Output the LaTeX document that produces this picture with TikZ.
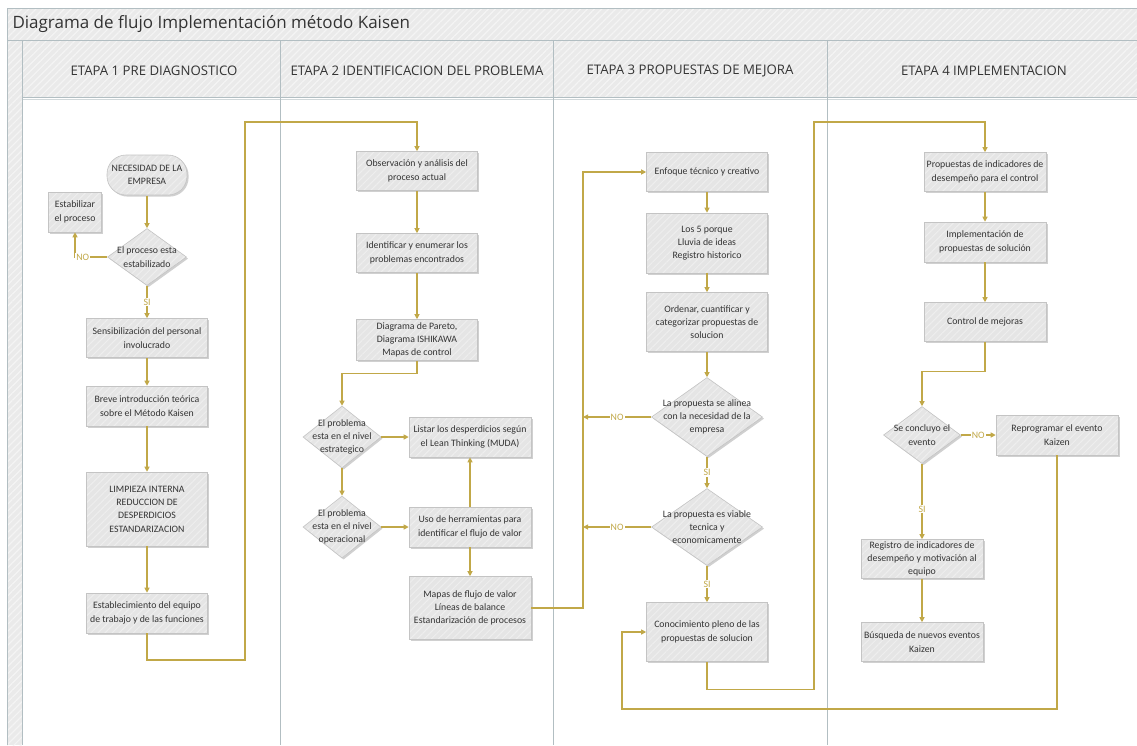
\documentclass[tikz,border=0pt]{standalone}
\usepackage{fontspec}
\setmainfont{Carlito}
\newfontfamily\headfont{Open Sans}
\usetikzlibrary{arrows.meta,shapes.geometric,patterns.meta,calc}

\definecolor{gold}{RGB}{193,168,72}
\definecolor{boxfill}{RGB}{229,229,229}
\definecolor{boxhatch}{RGB}{238,238,238}
\definecolor{boxline}{RGB}{196,196,196}
\definecolor{shade}{RGB}{170,170,170}
\definecolor{barfill}{RGB}{234,234,234}
\definecolor{barhatch}{RGB}{244,244,244}
\definecolor{frameline}{RGB}{178,190,194}
\definecolor{inkgray}{RGB}{52,52,52}

\begin{document}
\begin{tikzpicture}[x=1pt,y=-1pt,
  every node/.style={text=inkgray},
  hatched/.style={preaction={fill=barfill},
    pattern={Lines[angle=45,distance=5pt,line width=1.2pt]}, pattern color=barhatch},
  frame/.style={draw=frameline, line width=0.8pt},
  boxbase/.style={draw=boxline, line width=0.6pt,
    preaction={fill=shade, opacity=0.55, transform canvas={xshift=1.6pt,yshift=-1.6pt}},
    preaction={fill=boxfill},
    pattern={Lines[angle=45,distance=5pt,line width=1pt]}, pattern color=boxhatch},
  boxtext/.style={font=\fontsize{9.8}{13.3}\selectfont, align=center},
  stepbox/.style={boxbase, boxtext, rectangle, inner sep=0pt,
    minimum width=121pt, minimum height=39pt},
  startbox/.style={boxbase, boxtext, rectangle, rounded corners=19pt, inner sep=0pt,
    minimum width=80pt, minimum height=40pt},
  decision/.style={boxbase, diamond, inner sep=0pt},
  dtext/.style={boxtext, inner sep=0pt},
  conn/.style={draw=gold, line width=1.1pt},
  arr/.style={conn, -{Triangle[length=5pt,width=5pt]}},
  lbl/.style={font=\fontsize{9.8}{11}\selectfont, text=gold, fill=white, inner sep=1pt},
  lanehead/.style={font=\headfont\fontsize{13.2}{15}\selectfont, text=inkgray}
]
\useasboundingbox (0,0) rectangle (1137,745);
\fill[white] (0,0) rectangle (1137,745);

% ---------- swimlane frame ----------
\path[hatched] (7,8) rectangle (1137,40);
\path[hatched] (7,40) rectangle (22,745);
\path[hatched] (22,40) rectangle (1137,97);
\draw[frame] (7,745) -- (7,8) -- (1137,8);
\draw[frame] (7,40) -- (1137,40);
\draw[frame] (22,97) -- (1137,97);
\draw[frame, draw=frameline!60] (22,99) -- (1137,99);
\foreach \xx in {22,280,553,827}
  \draw[frame] (\xx,40) -- (\xx,745);

\node[anchor=west, font=\headfont\fontsize{17}{19}\selectfont, text=black!80] (title) at (9,24)
  {Diagrama de flujo Implementación método Kaisen};

\node[lanehead] (h1) at (154,71) {ETAPA 1 PRE DIAGNOSTICO};
\node[lanehead] (h2) at (417,71) {ETAPA 2 IDENTIFICACION DEL PROBLEMA};
\node[lanehead] (h3) at (690,71) {ETAPA 3 PROPUESTAS DE MEJORA};
\node[lanehead] (h4) at (984,71) {ETAPA 4 IMPLEMENTACION};

% ---------- stage 1 ----------
\node[startbox] (nec) at (147,175) {NECESIDAD DE LA\\EMPRESA};
\node[stepbox, minimum width=53pt, minimum height=40pt] (est) at (75,212) {Estabilizar\\el proceso};
\node[decision, minimum width=79pt, minimum height=57pt] (d1) at (147,257) {};
\node[dtext] (d1t) at (d1) {El proceso esta\\estabilizado};
\node[stepbox] (sens) at (147,338) {Sensibilización del personal\\involucrado};
\node[stepbox, minimum height=40pt] (breve) at (147,406) {Breve introducción teórica\\sobre el Método Kaisen};
\node[stepbox, minimum height=74pt] (limp) at (147,509) {LIMPIEZA INTERNA\\REDUCCION DE\\DESPERDICIOS\\ESTANDARIZACION};
\node[stepbox, minimum height=40pt] (estab) at (147,613) {Establecimiento del equipo\\de trabajo y de las funciones};

% ---------- stage 2 ----------
\node[stepbox] (obs) at (417,171) {Observación y análisis del\\proceso actual};
\node[stepbox] (ident) at (417,253) {Identificar y enumerar los\\problemas encontrados};
\node[stepbox, minimum height=41pt] (pareto) at (417,340) {Diagrama de Pareto,\\Diagrama ISHIKAWA\\Mapas de control};
\node[decision, minimum width=78pt, minimum height=62pt] (p1) at (342,437) {};
\node[dtext] (p1t) at (p1) {El problema\\esta en el nivel\\estrategico};
\node[stepbox, minimum width=122pt, minimum height=40pt] (listar) at (470,437) {Listar los desperdicios según\\el Lean Thinking (MUDA)};
\node[decision, minimum width=78pt, minimum height=62pt] (p2) at (342,527) {};
\node[dtext] (p2t) at (p2) {El problema\\esta en el nivel\\operacional};
\node[stepbox, minimum width=122pt, minimum height=40pt] (uso) at (470,527) {Uso de herramientas para\\identificar el flujo de valor};
\node[stepbox, minimum width=122pt, minimum height=63pt] (mapas) at (470,608) {Mapas de flujo de valor\\Líneas de balance\\Estandarización de procesos};

% ---------- stage 3 ----------
\node[stepbox] (enf) at (707,172) {Enfoque técnico y creativo};
\node[stepbox, minimum height=60pt] (cinco) at (707,243) {Los 5 porque\\Lluvia de ideas\\Registro historico};
\node[stepbox, minimum height=59pt] (ord) at (707,322) {Ordenar, cuantificar y\\categorizar propuestas de\\solucion};
\node[decision, minimum width=111pt, minimum height=79pt] (a1) at (707,417) {};
\node[dtext] (a1t) at (a1) {La propuesta se alinea\\con la necesidad de la\\empresa};
\node[decision, minimum width=111pt, minimum height=77pt] (a2) at (707,527) {};
\node[dtext] (a2t) at (a2) {La propuesta es viable\\tecnica y\\economicamente};
\node[stepbox, minimum height=59pt] (con) at (707,632) {Conocimiento pleno de las\\propuestas de solucion};

% ---------- stage 4 ----------
\node[stepbox, minimum width=122pt] (pi) at (985,172) {Propuestas de indicadores de\\desempeño para el control};
\node[stepbox, minimum width=122pt, minimum height=40pt] (impl) at (985,242) {Implementación de\\propuestas de solución};
\node[stepbox, minimum width=122pt] (ctrl) at (985,322) {Control de mejoras};
\node[decision, minimum width=77pt, minimum height=57pt] (conc) at (922,435) {};
\node[dtext] (conct) at (conc) {Se concluyo el\\evento};
\node[stepbox, minimum width=122pt, minimum height=40pt] (rep) at (1057,435) {Reprogramar el evento\\Kaizen};
\node[stepbox, minimum width=122pt] (reg) at (922,559) {Registro de indicadores de\\desempeño y motivación al\\equipo};
\node[stepbox, minimum width=122pt] (bus) at (922,642) {Búsqueda de nuevos eventos\\Kaizen};

% junction points on the return lines
\coordinate (ret3a) at (583,417);
\coordinate (ret3b) at (583,527);

% ---------- connectors: stage 1 ----------
\draw[arr] (nec) -- (d1);
\draw[arr] (d1.west) -- node[lbl, pos=0.76] {NO} (est.south |- d1.west) -- (est.south);
\draw[arr] (d1.south) -- node[lbl] {SI} (sens.north);
\draw[arr] (sens) -- (breve);
\draw[arr] (breve) -- (limp);
\draw[arr] (limp) -- (estab);
\draw[arr] (estab.south) |- (245,660) -- (245,122) -| (obs.north);

% ---------- connectors: stage 2 ----------
\draw[arr] (obs) -- (ident);
\draw[arr] (ident) -- (pareto);
\draw[arr] (pareto.south) -- ++(0,13) -| (p1.north);
\draw[arr] (p1.east) -- (listar.west);
\draw[arr] (p1.south) -- (p2.north);
\draw[arr] (p2.east) -- (uso.west);
\draw[arr] (uso.north) -- (listar.south);
\draw[arr] (uso.south) -- (mapas.north);
\draw[arr] (mapas.east) -| (583,172) -- (enf.west);

% ---------- connectors: stage 3 ----------
\draw[arr] (enf) -- (cinco);
\draw[arr] (cinco) -- (ord);
\draw[arr] (ord.south) -- (a1.north);
\draw[arr] (a1.west) -- node[lbl] {NO} (ret3a);
\draw[arr] (a1.south) -- node[lbl] {SI} (a2.north);
\draw[arr] (a2.west) -- node[lbl] {NO} (ret3b);
\draw[arr] (a2.south) -- node[lbl] {SI} (con.north);
\draw[arr] (con.south) -- ++(0,28) -| (814,122) -| (pi.north);

% ---------- connectors: stage 4 ----------
\draw[arr] (pi) -- (impl);
\draw[arr] (impl) -- (ctrl);
\draw[arr] (ctrl.south) -- ++(0,30) -| (conc.north);
\draw[arr] (conc.east) -- node[lbl] {NO} (rep.west);
\draw[arr] (conc.south) -- node[lbl, pos=0.6] {SI} (reg.north);
\draw[arr] (reg) -- (bus);
\draw[arr] (rep.south) |- (622,709) |- (con.west);
\end{tikzpicture}
\end{document}
